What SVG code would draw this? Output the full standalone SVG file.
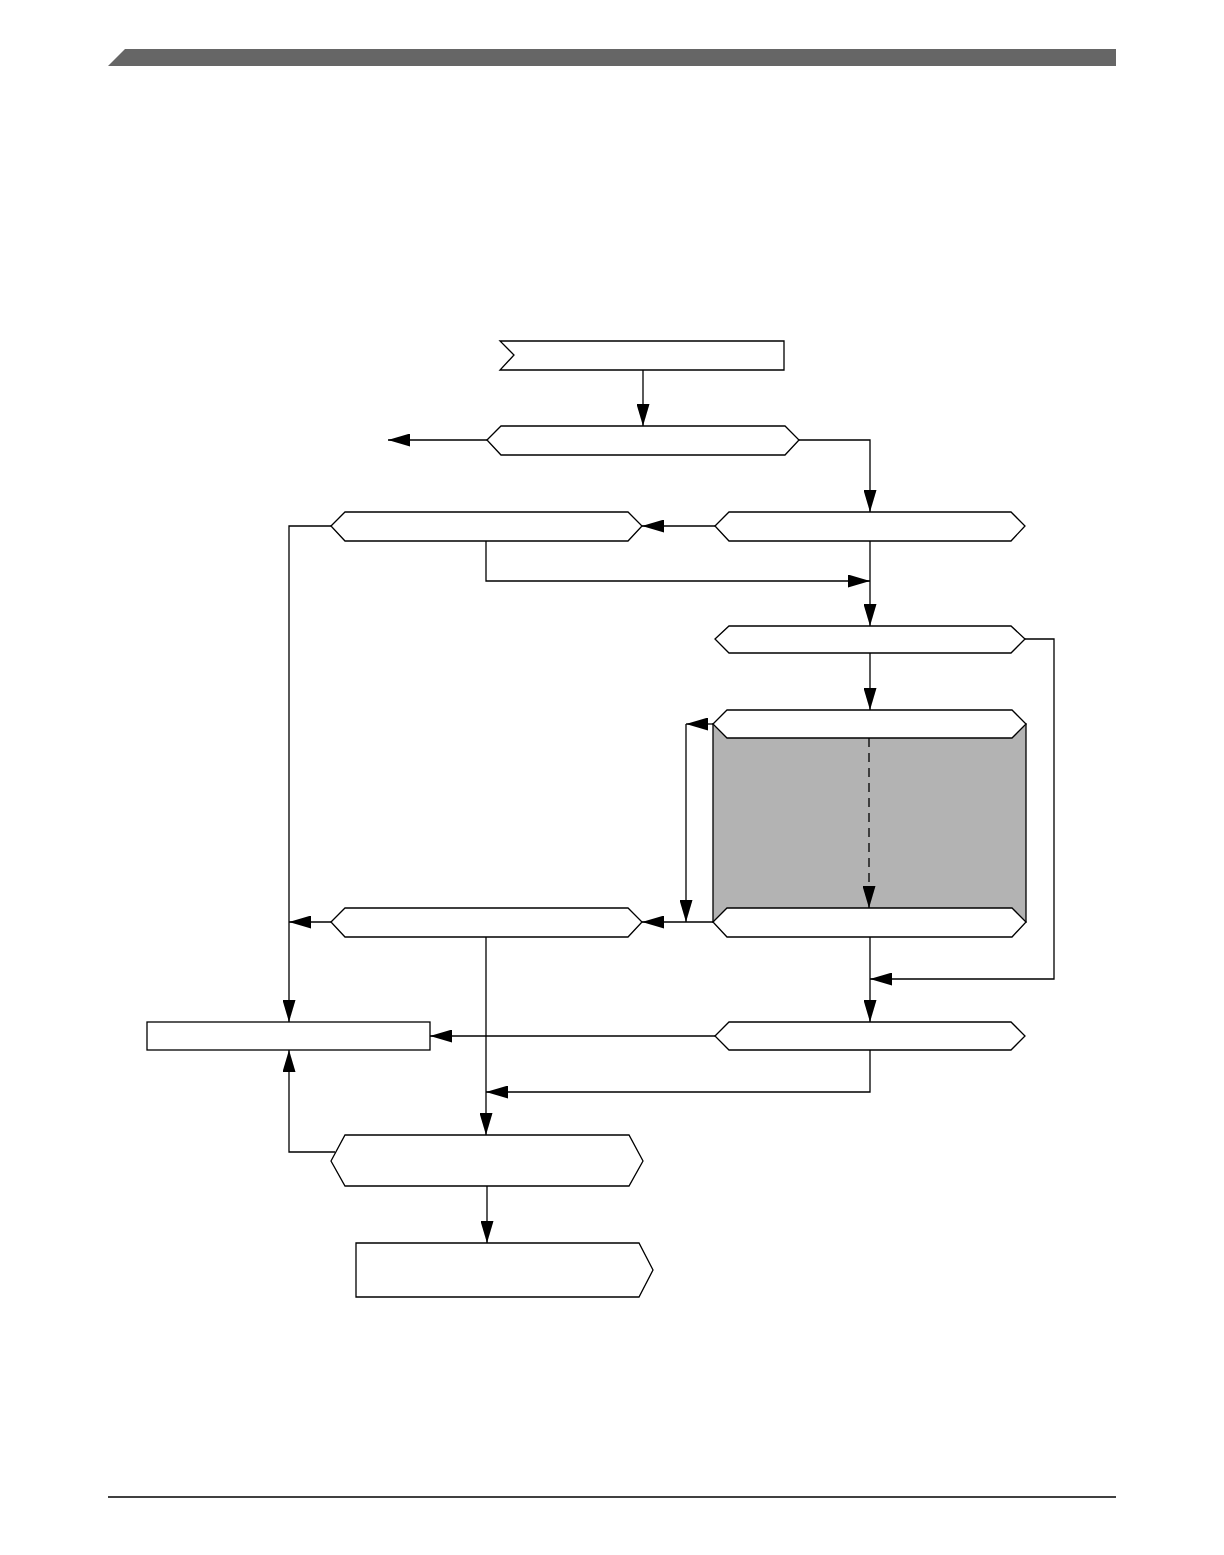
<svg xmlns="http://www.w3.org/2000/svg" width="1224" height="1555" viewBox="0 0 1224 1555">
<style>
.n{fill:#fff;stroke:#000;stroke-width:1.3}
.c{fill:none;stroke:#000;stroke-width:1.3}
.d{stroke-dasharray:9,6}
</style>
<defs>
<marker id="a" markerWidth="22" markerHeight="13" refX="22" refY="6.5" orient="auto" markerUnits="userSpaceOnUse"><path d="M0,0 L22,6.5 L0,13 z" fill="#000"/></marker>
</defs>
<rect width="1224" height="1555" fill="#fff"/>
<g id="header"><polygon points="125,49 1116,49 1116,66 108,66" fill="#666"/></g>
<g id="footer"><line x1="108" y1="1497" x2="1116" y2="1497" stroke="#000" stroke-width="1.5"/></g>
<g id="loop-block"><rect x="713" y="724" width="313" height="198" fill="#b3b3b3" stroke="#000" stroke-width="1.3"/></g>
<g id="start"><polygon class="n" points="500,341 784,341 784,370 500,370 514,355"/></g>
<g id="d1"><polygon class="n" points="487,440 501,426 785,426 799,440 785,455 501,455"/></g>
<g id="d2l"><polygon class="n" points="331,526 345,512 628,512 642,526 628,541 345,541"/></g>
<g id="d2r"><polygon class="n" points="715,526 729,512 1011,512 1025,526 1011,541 729,541"/></g>
<g id="d3"><polygon class="n" points="715,639 729,626 1011,626 1025,639 1011,653 729,653"/></g>
<g id="d4top"><polygon class="n" points="713,724 727,710 1012,710 1026,724 1012,738 727,738"/></g>
<g id="d4bot"><polygon class="n" points="713,922 727,908 1012,908 1026,922 1012,937 727,937"/></g>
<g id="d4l"><polygon class="n" points="331,922 345,908 628,908 642,922 628,937 345,937"/></g>
<g id="r5"><rect class="n" x="147" y="1022" width="283" height="28"/></g>
<g id="d5r"><polygon class="n" points="715,1036 729,1022 1011,1022 1025,1036 1011,1050 729,1050"/></g>
<g id="d6"><polygon class="n" points="331,1161 345,1135 629,1135 643,1161 629,1186 345,1186"/></g>
<g id="end"><polygon class="n" points="356,1243 639,1243 653,1270 639,1297 356,1297"/></g>
<g id="connectors">
<path class="c" d="M643,370 V426" marker-end="url(#a)"/>
<path class="c" d="M487,440 H388" marker-end="url(#a)"/>
<path class="c" d="M799,440 H870 V512" marker-end="url(#a)"/>
<path class="c" d="M715,526 H642" marker-end="url(#a)"/>
<path class="c" d="M331,526 H289 V1022" marker-end="url(#a)"/>
<path class="c" d="M486,541 V581 H870" marker-end="url(#a)"/>
<path class="c" d="M870,541 V626" marker-end="url(#a)"/>
<path class="c" d="M1025,639 H1054 V979 H870" marker-end="url(#a)"/>
<path class="c" d="M870,653 V710" marker-end="url(#a)"/>
<path class="c d" d="M869,738 V908" marker-end="url(#a)"/>
<path class="c" d="M713,724 H686" marker-end="url(#a)"/>
<path class="c" d="M686,724 V922" marker-end="url(#a)"/>
<path class="c" d="M713,922 H642" marker-end="url(#a)"/>
<path class="c" d="M331,922 H289" marker-end="url(#a)"/>
<path class="c" d="M870,937 V1022" marker-end="url(#a)"/>
<path class="c" d="M715,1036 H430" marker-end="url(#a)"/>
<path class="c" d="M486,937 V1135" marker-end="url(#a)"/>
<path class="c" d="M870,1050 V1092 H486" marker-end="url(#a)"/>
<path class="c" d="M335,1152 H289 V1050" marker-end="url(#a)"/>
<path class="c" d="M487,1186 V1243" marker-end="url(#a)"/>
</g>
</svg>
